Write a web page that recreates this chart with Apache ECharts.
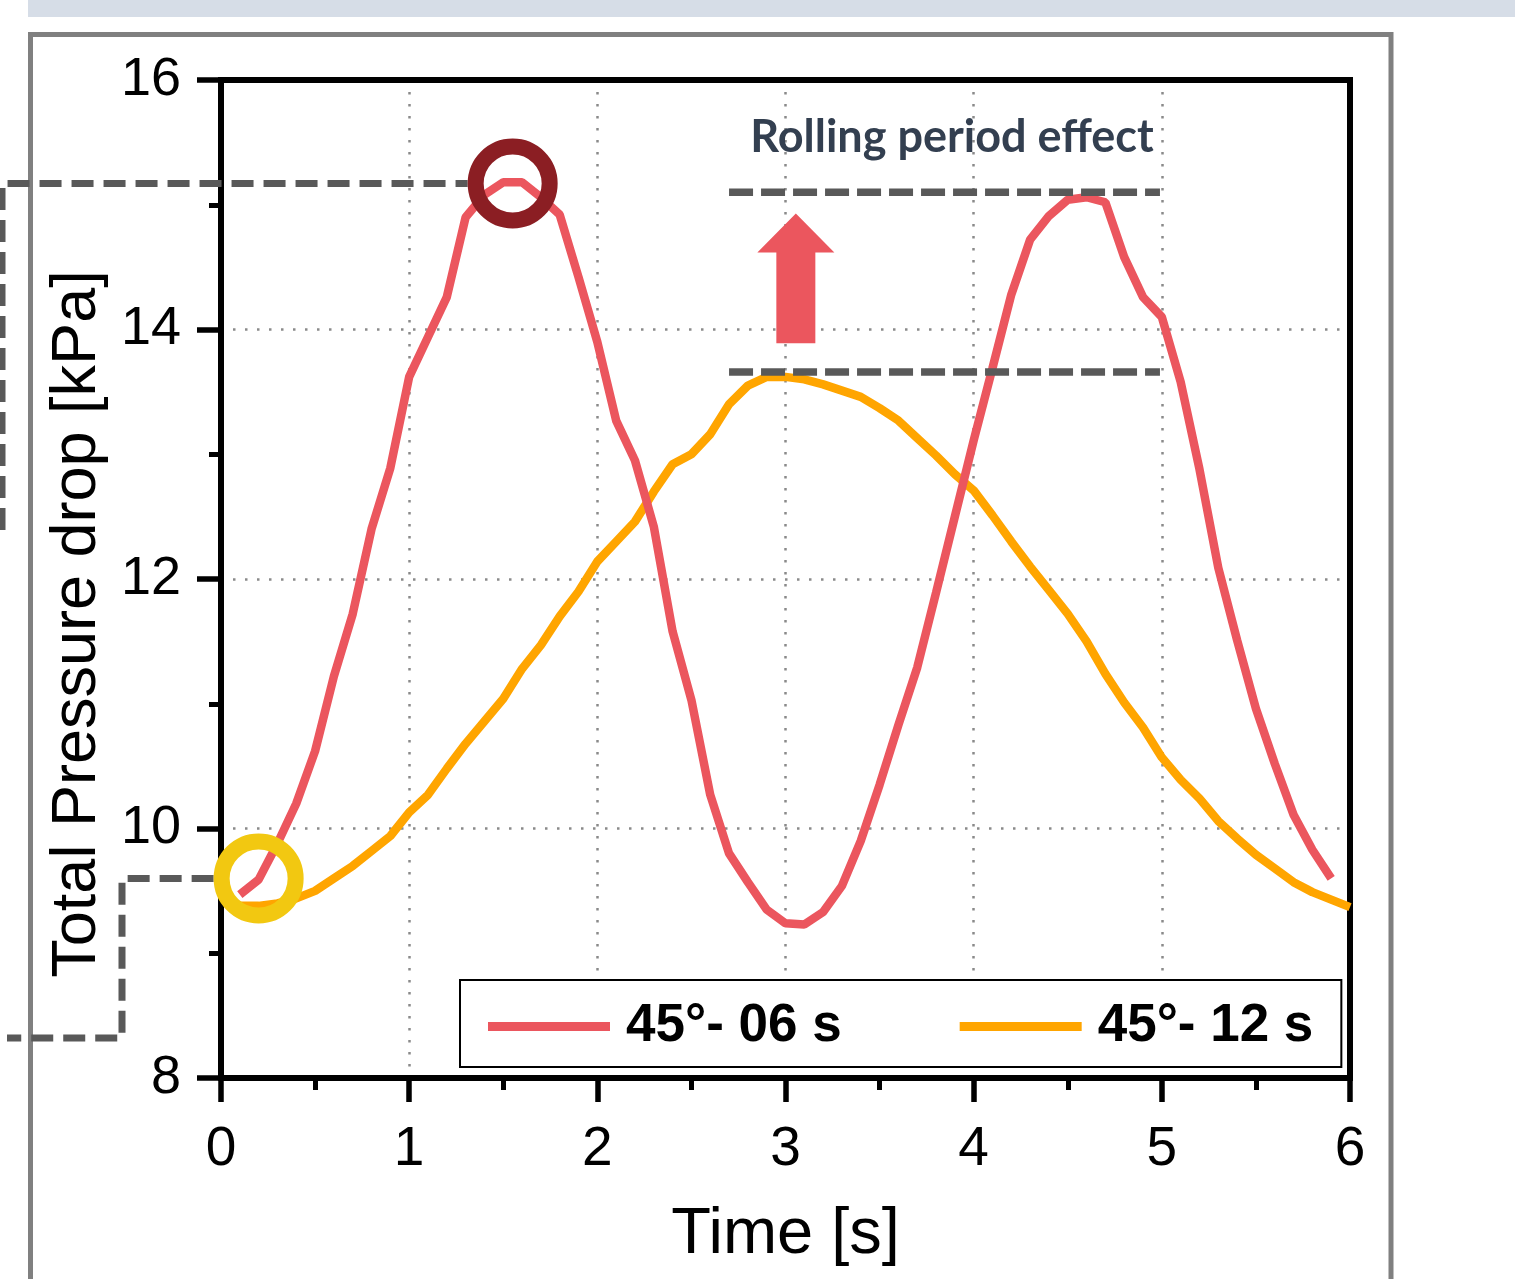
<!DOCTYPE html>
<html>
<head>
<meta charset="utf-8">
<script src="https://cdn.jsdelivr.net/npm/echarts@6/dist/echarts.min.js"></script>
<style>
  html, body { margin: 0; padding: 0; background: #ffffff; }
  #chart { width: 1515px; height: 1279px; }
</style>
</head>
<body>
<div id="chart"></div>
<script>
// Total pressure drop for a 45° roll at two rolling periods
const time06 = [0.1, 0.2, 0.3, 0.4, 0.5, 0.6, 0.7, 0.8, 0.9, 1.0,
                1.1, 1.2, 1.3, 1.4, 1.5, 1.6, 1.7, 1.8, 1.9, 2.0,
                2.1, 2.2, 2.3, 2.4, 2.5, 2.6, 2.7, 2.8, 2.9, 3.0,
                3.1, 3.2, 3.3, 3.4, 3.5, 3.6, 3.7, 3.8, 3.9, 4.0,
                4.1, 4.2, 4.3, 4.4, 4.5, 4.6, 4.7, 4.8, 4.9, 5.0,
                5.1, 5.2, 5.3, 5.4, 5.5, 5.6, 5.7, 5.8, 5.9];
const drop06 = [9.47, 9.59, 9.88, 10.20, 10.62, 11.22, 11.72, 12.40, 12.89, 13.62,
                13.94, 14.26, 14.90, 15.08, 15.18, 15.18, 15.06, 14.92, 14.42, 13.90,
                13.27, 12.95, 12.42, 11.58, 11.03, 10.27, 9.80, 9.57, 9.35, 9.24,
                9.23, 9.33, 9.54, 9.90, 10.35, 10.83, 11.29, 11.89, 12.50, 13.11,
                13.69, 14.28, 14.72, 14.91, 15.04, 15.06, 15.02, 14.58, 14.26, 14.10,
                13.58, 12.88, 12.09, 11.51, 10.96, 10.52, 10.11, 9.83, 9.60];

const time12 = [0.1, 0.2, 0.3, 0.4, 0.5, 0.6, 0.7, 0.8, 0.9, 1.0,
                1.1, 1.2, 1.3, 1.4, 1.5, 1.6, 1.7, 1.8, 1.9, 2.0,
                2.1, 2.2, 2.3, 2.4, 2.5, 2.6, 2.7, 2.8, 2.9, 3.0,
                3.1, 3.2, 3.3, 3.4, 3.5, 3.6, 3.7, 3.8, 3.9, 4.0,
                4.1, 4.2, 4.3, 4.4, 4.5, 4.6, 4.7, 4.8, 4.9, 5.0,
                5.1, 5.2, 5.3, 5.4, 5.5, 5.6, 5.7, 5.8, 5.9, 6.0];
const drop12 = [9.38, 9.38, 9.40, 9.44, 9.50, 9.60, 9.70, 9.82, 9.94, 10.13,
                10.27, 10.48, 10.68, 10.86, 11.04, 11.28, 11.47, 11.70, 11.90, 12.14,
                12.30, 12.46, 12.70, 12.92, 13.00, 13.16, 13.40, 13.55, 13.62, 13.62,
                13.60, 13.56, 13.51, 13.46, 13.37, 13.27, 13.13, 12.99, 12.84, 12.71,
                12.51, 12.30, 12.10, 11.91, 11.72, 11.50, 11.24, 11.01, 10.81, 10.57,
                10.39, 10.24, 10.06, 9.92, 9.79, 9.68, 9.57, 9.49, 9.43, 9.37];

const seriesNames = ['45°- 06 s', '45°- 12 s'];
const timeAxis = { min: 0, max: 6, step: 1 };
const dropAxis = { min: 8, max: 16, step: 2 };

// Annotation anchors, in data units (s, kPa)
const rollingLevels = [15.10, 13.66];
const rollingSpan = [2.7, 4.99];
const peakMark = [1.55, 15.17];
const startMark = [0.2, 9.6];
const arrowSpan = [3.055, 13.89, 14.93];   // time, base, tip
const noteAnchor = [3.885, 15.54];
const noteText = 'Rolling period effect';

const RED = '#EB565E';
const ORANGE = '#FFA500';
const FONT = '"Liberation Sans", Arial, sans-serif';

const pairs = (xs, ys) => xs.map((x, i) => [x, ys[i]]);

const axisLineStyle = { color: '#000', width: 6, cap: 'square' };
const gridLineStyle = { color: '#8a8a8a', width: 2.5, type: [2.5, 9.5] };

const option = {
  backgroundColor: '#ffffff',
  animation: false,
  grid: { left: 221, right: 165, top: 80, bottom: 201, containLabel: false },
  legend: {
    data: seriesNames,
    left: 460,
    top: 980,
    padding: [20, 28, 14, 28],
    itemWidth: 122,
    itemHeight: 9,
    itemGap: 118,
    icon: 'rect',
    selectedMode: false,
    borderColor: '#000',
    borderWidth: 2,
    backgroundColor: '#fff',
    textStyle: {
      fontFamily: FONT, fontSize: 53, fontWeight: 'bold', color: '#000',
      padding: [0, 0, 0, 11]
    }
  },
  xAxis: [{
    type: 'value',
    min: timeAxis.min, max: timeAxis.max, interval: timeAxis.step,
    position: 'bottom',
    name: 'Time [s]',
    nameLocation: 'middle',
    nameGap: 125,
    nameTextStyle: { fontFamily: FONT, fontSize: 65, color: '#000' },
    axisLine: { show: true, onZero: false, lineStyle: axisLineStyle },
    axisTick: { show: true, inside: false, length: 24, lineStyle: { color: '#000', width: 5.5 } },
    minorTick: { show: true, splitNumber: 2, length: 12, lineStyle: { color: '#000', width: 5 } },
    axisLabel: { fontFamily: FONT, fontSize: 55, color: '#000', margin: 44 },
    splitLine: { show: true, lineStyle: gridLineStyle }
  }, {
    type: 'value',
    min: timeAxis.min, max: timeAxis.max,
    position: 'top',
    axisLine: { show: true, onZero: false, lineStyle: axisLineStyle },
    axisTick: { show: false },
    axisLabel: { show: false },
    splitLine: { show: false }
  }],
  yAxis: [{
    type: 'value',
    min: dropAxis.min, max: dropAxis.max, interval: dropAxis.step,
    position: 'left',
    name: 'Total Pressure drop [kPa]',
    nameLocation: 'middle',
    nameGap: 112,
    nameTextStyle: { fontFamily: FONT, fontSize: 63, color: '#000', padding: [0, 90, 0, 0] },
    axisLine: { show: true, onZero: false, lineStyle: axisLineStyle },
    axisTick: { show: true, inside: false, length: 24, lineStyle: { color: '#000', width: 5.5 } },
    minorTick: { show: true, splitNumber: 2, length: 12, lineStyle: { color: '#000', width: 5 } },
    axisLabel: { fontFamily: FONT, fontSize: 54, color: '#000', margin: 40 },
    splitLine: { show: true, lineStyle: gridLineStyle }
  }, {
    type: 'value',
    min: dropAxis.min, max: dropAxis.max,
    position: 'right',
    axisLine: { show: true, onZero: false, lineStyle: axisLineStyle },
    axisTick: { show: false },
    axisLabel: { show: false },
    splitLine: { show: false }
  }],
  series: [{
    name: seriesNames[0],
    type: 'line',
    xAxisIndex: 0, yAxisIndex: 0,
    data: pairs(time06, drop06),
    showSymbol: false,
    symbol: 'none',
    color: RED,
    lineStyle: { color: RED, width: 8.5 },
    z: 3
  }, {
    name: seriesNames[1],
    type: 'line',
    xAxisIndex: 0, yAxisIndex: 0,
    data: pairs(time12, drop12),
    showSymbol: false,
    symbol: 'none',
    color: ORANGE,
    lineStyle: { color: ORANGE, width: 8.5 },
    z: 2
  }]
};

const chart = echarts.init(document.getElementById('chart'), null, { renderer: 'canvas' });
chart.setOption(option);

// Annotations placed through the grid's own coordinate conversion
const px = (t, p) => chart.convertToPixel({ seriesIndex: 0 }, [t, p]);
const pk = px(peakMark[0], peakMark[1]);
const st = px(startMark[0], startMark[1]);
const ringR = 37, ringW = 16, ringOuter = ringR + ringW / 2;
const guideStyle = { fill: null, stroke: '#595959', lineWidth: 7, lineDash: [22, 10] };
const levelStyle = { fill: null, stroke: '#595959', lineWidth: 7.5, lineDash: [24, 8] };

const levelLines = rollingLevels.map(level => {
  const a = px(rollingSpan[0], level);
  const b = px(rollingSpan[1], level);
  return { type: 'line', z: 100, silent: true, shape: { x1: a[0], y1: a[1], x2: b[0], y2: b[1] }, style: levelStyle };
});

const aBase = px(arrowSpan[0], arrowSpan[1]);
const aTip = px(arrowSpan[0], arrowSpan[2]);
const cx = aBase[0], headY = aTip[1] + 39, shaftHalf = 19.5, headHalf = 38.5;
const note = px(noteAnchor[0], noteAnchor[1]);

chart.setOption({
  graphic: [
    { type: 'rect', z: 0, silent: true, shape: { x: 28, y: 0, width: 1487, height: 17 }, style: { fill: '#d6dde7' } },
    { type: 'rect', z: 0, silent: true, shape: { x: 30.5, y: 34.5, width: 1360.5, height: 1400 },
      style: { fill: null, stroke: '#808080', lineWidth: 5 } },
    { type: 'polyline', z: 100, silent: true,
      shape: { points: [[2, 530], [2, pk[1]], [pk[0] - ringOuter, pk[1]]] }, style: guideStyle },
    { type: 'polyline', z: 100, silent: true,
      shape: { points: [[st[0] - ringOuter, st[1]], [122, st[1]], [122, 1038], [7, 1038]] }, style: guideStyle },
    ...levelLines,
    { type: 'polygon', z: 100, silent: true,
      shape: { points: [
        [cx - shaftHalf, aBase[1]], [cx - shaftHalf, headY], [cx - headHalf, headY],
        [cx, aTip[1]],
        [cx + headHalf, headY], [cx + shaftHalf, headY], [cx + shaftHalf, aBase[1]]
      ] },
      style: { fill: RED } },
    { type: 'text', z: 100, silent: true, x: note[0], y: note[1],
      style: { text: noteText, fill: '#333f50', font: 'bold 45px Lato, "Open Sans", sans-serif',
               textAlign: 'center', textVerticalAlign: 'middle' } },
    { type: 'circle', z: 110, silent: true, shape: { cx: pk[0], cy: pk[1], r: ringR },
      style: { fill: null, stroke: '#8B1E23', lineWidth: ringW } },
    { type: 'circle', z: 110, silent: true, shape: { cx: st[0], cy: st[1], r: ringR },
      style: { fill: null, stroke: '#F2C811', lineWidth: ringW } }
  ]
});
</script>
</body>
</html>
